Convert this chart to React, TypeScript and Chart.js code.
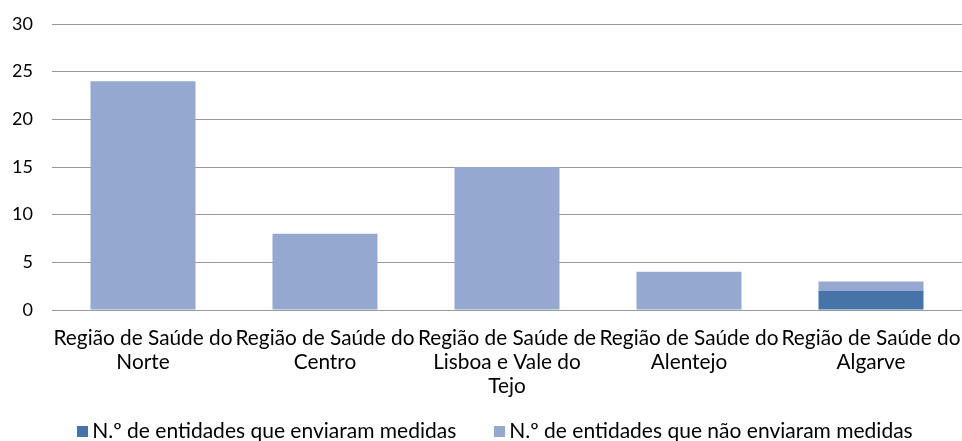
import React, { useEffect, useRef } from "react";
import { Chart, registerables } from "chart.js";

Chart.register(...registerables);

const categories: string[][] = [
  ["Região de Saúde do", "Norte"],
  ["Região de Saúde do", "Centro"],
  ["Região de Saúde de", "Lisboa e Vale do", "Tejo"],
  ["Região de Saúde do", "Alentejo"],
  ["Região de Saúde do", "Algarve"],
];
const enviaram: number[] = [0, 0, 0, 0, 2];
const naoEnviaram: number[] = [24, 8, 15, 4, 1];
const seriesNames: string[] = [
  "N.º de entidades que enviaram medidas",
  "N.º de entidades que não enviaram medidas",
];
const seriesColors: string[] = ["#4674A8", "#95A9D0"];

const FONT = "Lato, 'Open Sans', sans-serif";

const bottomLegend = {
  id: "bottomLegend",
  afterDraw(chart: any) {
    const ctx = chart.ctx as CanvasRenderingContext2D;
    const ds = chart.data.datasets;
    ctx.save();
    ctx.font = `21px ${FONT}`;
    ctx.textBaseline = "middle";
    ctx.textAlign = "left";
    const box = 11;
    const gapBoxText = 4;
    const gapItems = 38;
    const widths = ds.map((d: any) => box + gapBoxText + ctx.measureText(d.label).width);
    const total = widths.reduce((a: number, b: number) => a + b, 0) + gapItems * (ds.length - 1);
    let x = 495 - total / 2;
    const y = 431.5;
    ds.forEach((d: any, i: number) => {
      ctx.fillStyle = d.backgroundColor;
      ctx.fillRect(Math.round(x), Math.round(y - box / 2), box, box);
      ctx.fillStyle = "#000";
      ctx.fillText(d.label, x + box + gapBoxText, y);
      x += widths[i] + gapItems;
    });
    ctx.restore();
  },
};

export default function App() {
  const ref = useRef<HTMLCanvasElement | null>(null);
  useEffect(() => {
    if (!ref.current) return;
    const chart = new Chart(ref.current, {
      type: "bar",
      data: {
        labels: categories,
        datasets: [
          {
            label: seriesNames[0],
            data: enviaram,
            backgroundColor: seriesColors[0],
            categoryPercentage: 0.577,
            barPercentage: 1,
          },
          {
            label: seriesNames[1],
            data: naoEnviaram,
            backgroundColor: seriesColors[1],
            categoryPercentage: 0.577,
            barPercentage: 1,
          },
        ],
      },
      plugins: [bottomLegend],
      options: {
        animation: false,
        responsive: false,
        maintainAspectRatio: false,
        layout: { padding: { left: 0, right: 0, top: 24, bottom: 36 } },
        plugins: {
          legend: { display: false },
          tooltip: { enabled: false },
        },
        scales: {
          x: {
            stacked: true,
            grid: { display: false },
            border: { display: true, color: "#999" },
            afterFit: (scale: any) => {
              scale.paddingLeft = 0;
              scale.paddingRight = 0;
              scale.height = 95;
            },
            ticks: {
              color: "#000",
              font: { family: FONT, size: 20.8, lineHeight: 1.154 },
              maxRotation: 0,
              minRotation: 0,
              autoSkip: false,
              padding: 8,
            },
          },
          y: {
            stacked: true,
            min: 0,
            max: 30,
            afterFit: (scale: any) => {
              scale.width = 52;
              scale.paddingTop = 0;
              scale.paddingBottom = 0;
            },
            ticks: {
              stepSize: 5,
              color: "#000",
              font: { family: FONT, size: 18 },
              padding: 19,
            },
            grid: { color: "#999", drawTicks: false },
            border: { display: false },
          },
        },
      },
    });
    return () => chart.destroy();
  }, []);
  return (
    <div style={{ position: "absolute", left: 0, top: 0, width: 962, height: 441, background: "#fff" }}>
      <canvas ref={ref} width={962} height={441} style={{ width: 962, height: 441 }} />
    </div>
  );
}
